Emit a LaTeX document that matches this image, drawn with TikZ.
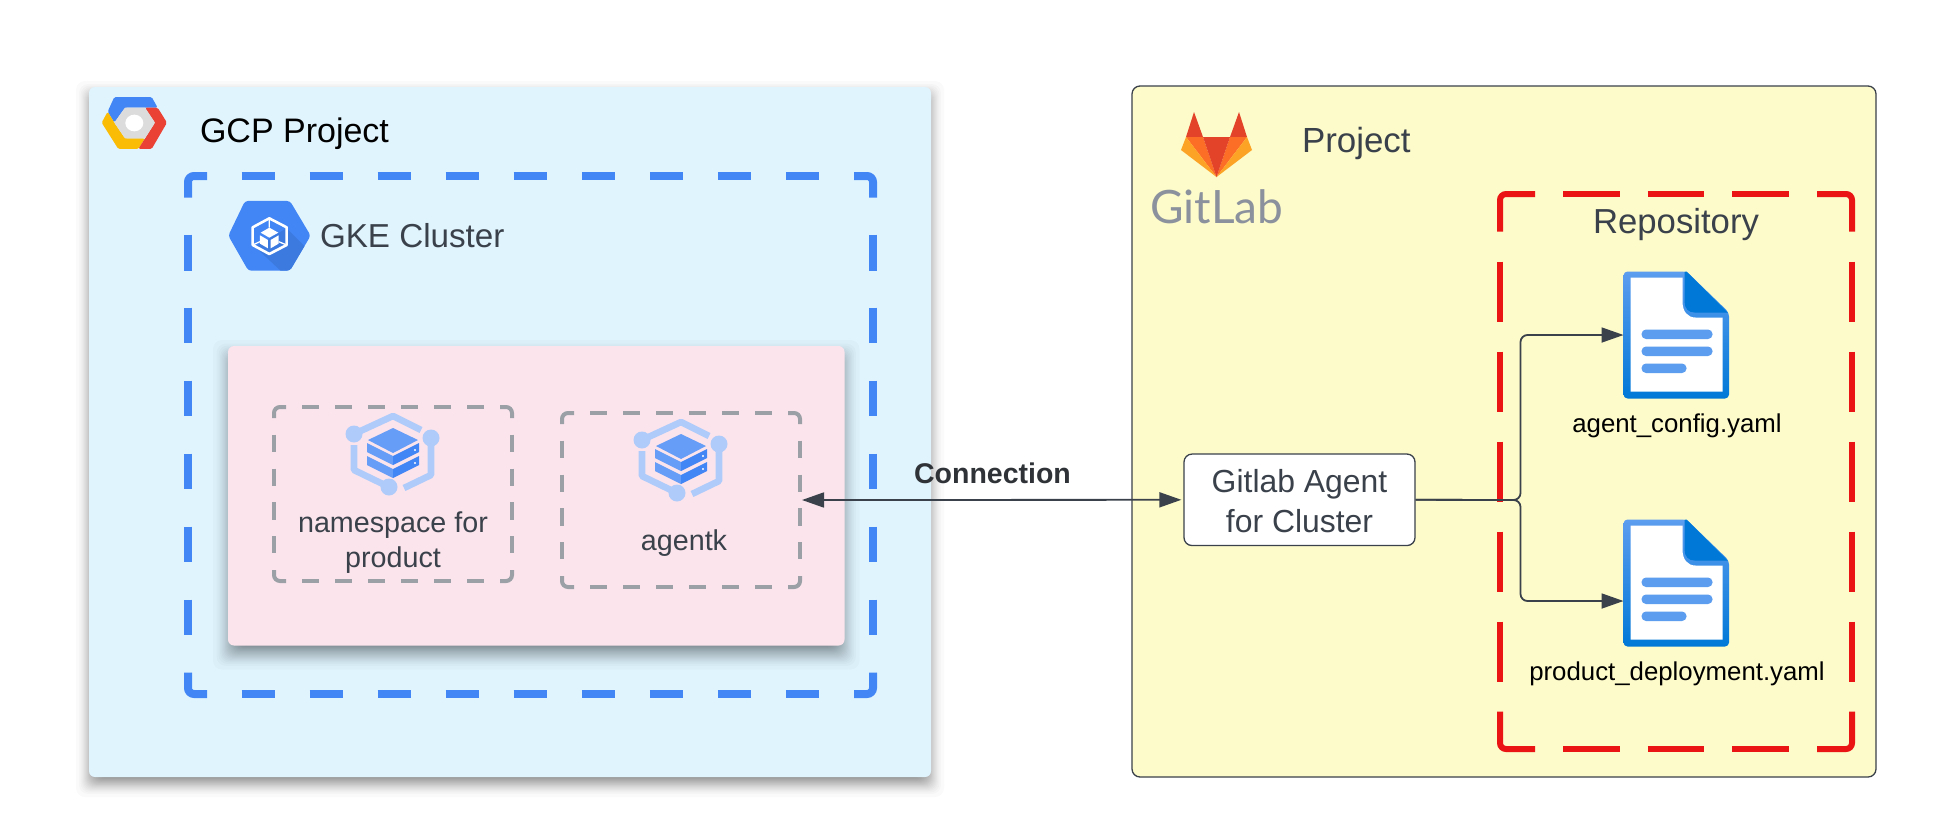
\documentclass[tikz,border=0pt]{standalone}
\usepackage{fontspec}
\setmainfont{Liberation Sans}
\newfontfamily\logofont{Lato}
\usetikzlibrary{arrows.meta,calc}
\definecolor{inkc}{HTML}{3A414A}
\definecolor{gcpbg}{HTML}{E0F4FE}
\definecolor{pinkbg}{HTML}{FBE4EC}
\definecolor{yelbg}{HTML}{FDFBCA}
\definecolor{gblue}{HTML}{4285F4}
\definecolor{gblued}{HTML}{3C7AE0}
\definecolor{gred}{HTML}{EA4335}
\definecolor{gyel}{HTML}{FBBC05}
\definecolor{ggray}{HTML}{DCDCDC}
\definecolor{lblue}{HTML}{AECBFA}
\definecolor{mblue}{HTML}{669DF6}
\definecolor{dashgray}{HTML}{9AA0A6}
\definecolor{repred}{HTML}{EB1414}
\definecolor{docdark}{HTML}{0078D7}
\definecolor{docmid}{HTML}{5C9DEF}
\definecolor{glred}{HTML}{E24329}
\definecolor{glorg}{HTML}{FC6D26}
\definecolor{glyel}{HTML}{FCA326}
\definecolor{glgray}{HTML}{8C929D}
\definecolor{connink}{HTML}{2F3338}
\tikzset{
  x=1pt,y=-1pt,
  lbl/.style={inner sep=0pt,outer sep=0pt,text=inkc},
  conn/.style={draw=inkc,line width=1.8pt,rounded corners=7pt},
  tip/.style={-{Triangle[length=22pt,width=15pt]}},
  tipboth/.style={{Triangle[length=22pt,width=15pt]}-{Triangle[length=22pt,width=15pt]}},
  anchorbox/.style={inner sep=0pt,outer sep=0pt,minimum width=#1},
  pics/stackicon/.style={code={
    \draw[lblue,line width=6.6pt,line join=round] (-39,-19)--(0,-37)--(28,-23);
    \draw[lblue,line width=6.6pt,line join=round] (38,-15)--(38,22)--(11,35);
    \draw[lblue,line width=6.6pt,line join=round] (-4,34)--(-39,17)--(-39,-8);
    \fill[lblue] (-39,-19) circle (8.5) (38,-15) circle (8.5) (-4,34) circle (8.5);
    \fill[mblue] (0,-25)--(25,-13)--(0,0)--(-25,-13)--cycle;
    \fill[mblue] (-26,-10)--(0,3)--(0,12)--(-26,-1)--cycle;
    \fill[gblue] (0,3)--(26,-10)--(26,-1)--(0,12)--cycle;
    \fill[mblue] (-26,3)--(0,16)--(0,25)--(-26,12)--cycle;
    \fill[gblue] (0,16)--(26,3)--(26,12)--(0,25)--cycle;
    \fill[white] (22,-3) circle (1.1) (22,10) circle (1.1);
  }},
  pics/docicon/.style={code={
    \shade[top color=docmid,bottom color=docdark,rounded corners=4pt]
      (0,0)--(63,0)--(105.5,41)--(105.5,127)--(0,127)--cycle;
    \fill[white] (7,6)--(59,6)--(59,30) .. controls (59,40) and (64,46) .. (72,46)--(99,46)--(99,120)--(7,120)--cycle;
    \fill[docdark] (63,0)--(104,41)--(71,41) .. controls (65,41) and (61,37) .. (61,30)--(61,0)--cycle;
    \fill[docmid,rounded corners=4.5pt] (18,58) rectangle (89,67.5) (18,75) rectangle (89,84.5) (18,92) rectangle (63,101.5);
  }}
}
% soft shadow: x1 y1 x2 y2 dy outer inner
\newcommand\softshadow[7]{%
  \foreach \i in {0,...,23}{%
    \pgfmathsetmacro\ee{#6-(#6+#7)*(\i/23)^0.6}%
    \fill[black,opacity=0.021,rounded corners=9pt]
      ({#1-\ee},{#2+#5-\ee}) rectangle ({#3+\ee},{#4+#5+\ee});
  }%
}
% dashed box: x1 y1 x2 y2 dash gap corner-h corner-v style
\newcommand\dashframe[9]{%
  \pgfmathsetmacro\Lh{#3-#1-2*#7}\pgfmathsetmacro\Lv{#4-#2-2*#8}%
  \pgfmathsetmacro\Nh{round((\Lh+#5)/(#5+#6))}\pgfmathsetmacro\Nv{round((\Lv+#5)/(#5+#6))}%
  \pgfmathsetmacro\sh{\Lh/(\Nh*#6+(\Nh-1)*#5)}\pgfmathsetmacro\sv{\Lv/(\Nv*#6+(\Nv-1)*#5)}%
  \pgfmathsetmacro\dh{#5*\sh}\pgfmathsetmacro\gh{#6*\sh}%
  \pgfmathsetmacro\dv{#5*\sv}\pgfmathsetmacro\gv{#6*\sv}%
  \foreach \yy in {#2,#4}{\draw[#9,dash pattern=on \dh pt off \gh pt,dash phase=\dh pt] ({#1+#7},\yy)--({#3-#7},\yy);}%
  \foreach \xx in {#1,#3}{\draw[#9,dash pattern=on \dv pt off \gv pt,dash phase=\dv pt] (\xx,{#2+#8})--(\xx,{#4-#8});}%
  \draw[#9,rounded corners=6pt] (#1,{#2+#8})--(#1,#2)--({#1+#7},#2);
  \draw[#9,rounded corners=6pt] (#3,{#2+#8})--(#3,#2)--({#3-#7},#2);
  \draw[#9,rounded corners=6pt] (#1,{#4-#8})--(#1,#4)--({#1+#7},#4);
  \draw[#9,rounded corners=6pt] (#3,{#4-#8})--(#3,#4)--({#3-#7},#4);
}
\begin{document}
\begin{tikzpicture}
\useasboundingbox (0,0) rectangle (1934,836);
\fill[white] (0,0) rectangle (1934,836);
% GCP project
\softshadow{89}{87}{931}{777}{7}{13}{7}
\node[fill=gcpbg,rounded corners=6pt,inner sep=0pt,minimum width=842pt,minimum height=690pt] (gcp) at (510,432) {};
% GCP logo
\begin{scope}[shift={(70,70)},x=0.3333pt,y=-0.3333pt]
  \fill[gblue,rounded corners=1.5pt] (133,81)--(245,81)--(263,113)--(165,113)--(133,158)--(113,125)--cycle;
  \fill[gyel,rounded corners=1.5pt] (113,125)--(133,158)--(165,205)--(225,205)--(205,237)--(145,237)--(95,158)--cycle;
  \fill[gred,rounded corners=1.5pt] (225,113)--(263,113)--(291,158)--(245,237)--(205,237)--(255,158)--cycle;
  \fill[ggray] (165,113)--(225,113)--(255,158)--(225,205)--(165,205)--(133,158)--cycle;
  \fill[white] (193,159) ellipse (27 and 25);
\end{scope}
\node[lbl,text=black,anchor=base west,font=\fontsize{34pt}{40pt}\selectfont] (gcptitle) at (200,142.7) {GCP Project};
% GKE frame
\dashframe{188}{176}{873}{694}{34}{35}{19}{21.5}{gblue,line width=8pt}
% GKE logo
\begin{scope}[shift={(70,70)},x=0.3333pt,y=-0.3333pt]
  \begin{scope}
    \clip[rounded corners=3pt] (525,393)--(660,393)--(722,497)--(660,602)--(535,602)--(475,497)--cycle;
    \fill[gblue] (440,380) rectangle (740,620);
    \fill[gblued] (650,475)--(790,615)--(650,640)--(640,610)--(555,530)--cycle;
  \end{scope}
  \draw[white,line width=2.6pt,line join=round] (598,445)--(650,472)--(650,525)--(598,552)--(548,525)--(548,472)--cycle;
  \fill[white] (598,473)--(625,488)--(598,503)--(572,488)--cycle;
  \fill[white] (570,496)--(594,510)--(594,535)--(570,521)--cycle;
  \fill[white] (626,496)--(602,510)--(602,535)--(626,521)--cycle;
  \draw[white,line width=1.3pt] (598,445)--(598,473) (548,525)--(570,515) (650,525)--(626,515);
\end{scope}
\node[lbl,anchor=base west,font=\fontsize{33.2pt}{40pt}\selectfont] (gketitle) at (320,247.7) {GKE Cluster};
% pink namespace panel
\softshadow{228}{346}{844.5}{645.5}{9}{15}{9}
\node[fill=pinkbg,rounded corners=6pt,inner sep=0pt,minimum width=616.5pt,minimum height=299.5pt] (panel) at (536.25,495.75) {};
% namespace box
\node[anchorbox=238pt,minimum height=174pt] (nsbox) at (393,494) {};
\dashframe{274}{407}{512}{581}{17}{16.5}{12}{11}{dashgray,line width=4pt}
\pic at (393,453) {stackicon};
\node[lbl,align=center,font=\fontsize{28.7pt}{34.5pt}\selectfont] (nslabel) at (393,542.5) {namespace for\\product};
% agentk box
\node[anchorbox=238pt,minimum height=174pt] (agentbox) at (681,500) {};
\dashframe{562}{413}{800}{587}{17}{16.5}{12}{11}{dashgray,line width=4pt}
\pic at (681,459) {stackicon};
\node[lbl,anchor=base,font=\fontsize{28.7pt}{34pt}\selectfont] (agentklabel) at (684,550) {agentk};
% GitLab project
\node[fill=yelbg,draw=inkc,line width=1.3pt,rounded corners=8pt,inner sep=0pt,minimum width=744pt,minimum height=691pt] (glproj) at (1504,431.5) {};
% fox
\fill[glred] (1194,112)--(1203,137)--(1186,137)--cycle;
\fill[glred] (1239,112)--(1247,137)--(1230,137)--cycle;
\fill[glorg] (1186,137)--(1203,137)--(1216.5,177)--cycle;
\fill[glorg] (1247,137)--(1230,137)--(1216.5,177)--cycle;
\fill[glyel] (1186,137)--(1181,150)--(1216.5,177)--cycle;
\fill[glyel] (1247,137)--(1252,150)--(1216.5,177)--cycle;
\fill[glred] (1203,137)--(1230,137)--(1216.5,177)--cycle;
\node[lbl,text=glgray,anchor=base west,font=\logofont\fontsize{46pt}{50pt}\selectfont] (gitlabword) at (1150,223) {GitLab};
\node[lbl,anchor=base west,font=\fontsize{34.9pt}{40pt}\selectfont] (projtitle) at (1302,152.7) {Project};
% repository
\dashframe{1500}{194}{1852}{749}{60}{30}{35}{37.5}{repred,line width=6pt}
\node[lbl,anchor=base,font=\fontsize{34.7pt}{40pt}\selectfont] (repotitle) at (1676,233) {Repository};
% docs
\node[anchorbox=105.5pt,minimum height=127pt] (doca) at (1676.25,335) {};
\pic[shift={(1623.5,271.5)}] {docicon};
\node[anchorbox=105.5pt,minimum height=127pt] (docb) at (1676.25,583) {};
\pic[shift={(1623.5,519.5)}] {docicon};
\node[lbl,text=black,anchor=base,font=\fontsize{25.8pt}{30pt}\selectfont] (docalabel) at (1677,432) {agent\_config.yaml};
\node[lbl,text=black,anchor=base,font=\fontsize{25.8pt}{30pt}\selectfont] (docblabel) at (1677,680) {product\_deployment.yaml};
% gitlab agent
\node[fill=white,draw=inkc,line width=1.3pt,rounded corners=8pt,inner sep=0pt,minimum width=231pt,minimum height=91.5pt] (agent) at (1299.5,499.8) {};
\node[lbl,align=center,font=\fontsize{31.9pt}{39.5pt}\selectfont] (agentlabel) at (1299.5,501) {Gitlab Agent\\for Cluster};
% connectors
\coordinate (trunk) at (1520.5,500);
\coordinate (doctipb) at ($(docb.west)+(0,18)$);
\draw[conn,tip] (agent.east)--(trunk)|-(doca.west);
\draw[conn,tip] (agent.east)--(trunk)|-(doctipb);
\draw[conn,rounded corners=0pt,tipboth] ([xshift=2pt]agentbox.east)--([xshift=-2pt]agent.west);
\node[lbl,text=connink,font=\bfseries\fontsize{28.5pt}{34pt}\selectfont] (connlabel) at (992.5,473) {Connection};
\end{tikzpicture}
\end{document}
